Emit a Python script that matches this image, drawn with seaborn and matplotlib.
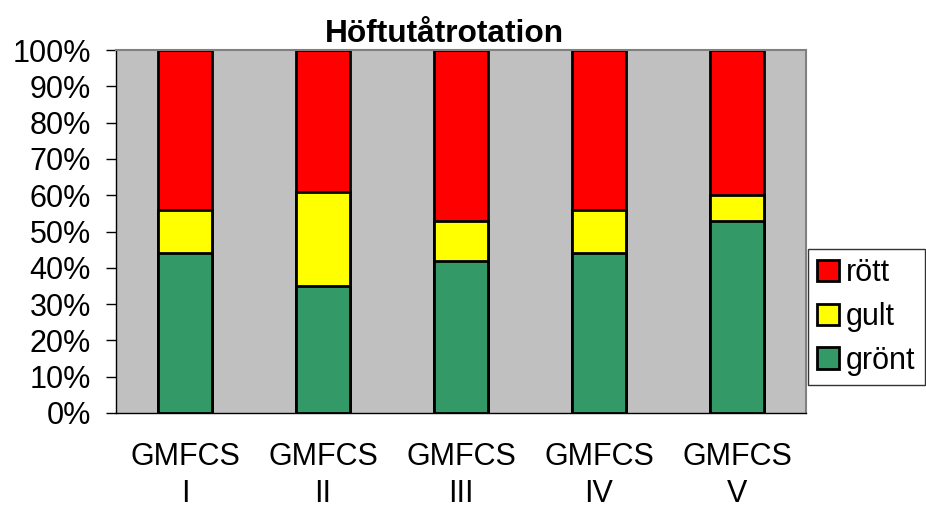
import matplotlib
matplotlib.use("Agg")
import matplotlib.pyplot as plt
import seaborn as sns
import numpy as np
from matplotlib.patches import Patch

categories = ["GMFCS\nI", "GMFCS\nII", "GMFCS\nIII", "GMFCS\nIV", "GMFCS\nV"]
gront = [44, 35, 42, 44, 53]
gult = [12, 26, 11, 12, 7]
rott = [44, 39, 47, 44, 40]
title = "Höftutåtrotation"

sns.set_style("white")
plt.rcParams['font.family'] = ['Liberation Sans', 'DejaVu Sans']
plt.rcParams['text.color'] = 'black'
plt.rcParams['xtick.color'] = 'black'
plt.rcParams['ytick.color'] = 'black'
plt.rcParams['xtick.labelcolor'] = 'black'
plt.rcParams['ytick.labelcolor'] = 'black'

FS = 22
fig = plt.figure(figsize=(9.26, 5.13), dpi=100)
ax = fig.add_axes([116/926, 1-413/513, 690/926, 363/513])
ax.set_facecolor("#C0C0C0")

g = np.array(gront); y = g + np.array(gult); r = y + np.array(rott)
colors = {"rött": "#FF0000", "gult": "#FFFF00", "grönt": "#339966"}
for vals, col in [(r, colors["rött"]), (y, colors["gult"]), (g, colors["grönt"])]:
    sns.barplot(x=categories, y=vals, color=col, width=0.39, edgecolor="black",
                linewidth=2, saturation=1, ax=ax)

ax.set_xlim(-0.5, 4.5)
ax.set_ylim(0, 100)
ax.set_yticks(np.arange(0, 101, 10))
ax.set_yticklabels([f"{v}%" for v in range(0, 101, 10)], fontsize=FS, color="black")
ax.set_xticks(range(5))
ax.set_xticklabels(categories, fontsize=FS, linespacing=1.3, color="black")
ax.tick_params(axis="x", which="major", length=0, pad=21)
ax.set_xticks(np.arange(-0.5, 5, 1), minor=True)
ax.tick_params(axis="x", which="minor", length=8, width=1, color="black", direction="out")
ax.tick_params(axis="y", length=7, width=1, color="black", direction="out", pad=11, left=True)
ax.set_xlabel(""); ax.set_ylabel("")

for s in ["top", "right"]:
    ax.spines[s].set_color("#808080"); ax.spines[s].set_linewidth(1.5)
for s in ["left", "bottom"]:
    ax.spines[s].set_color("black"); ax.spines[s].set_linewidth(1)

ax.set_title(title, fontsize=22.8, fontweight="bold", pad=6, x=(444-116)/690, color="black")

handles = [Patch(facecolor=colors[k], edgecolor="black", linewidth=2, label=k)
           for k in ["rött", "gult", "grönt"]]
leg = fig.legend(handles=handles, loc="upper left", bbox_to_anchor=(808/926, 1-249/513),
                 fontsize=FS, frameon=True, fancybox=False, edgecolor="black",
                 handlelength=0.7, handleheight=0.7, handletextpad=0.25,
                 borderpad=0.3, labelspacing=0.45, borderaxespad=0, labelcolor="black")
leg.get_frame().set_linewidth(1)

fig.savefig("out.png", dpi=100)
